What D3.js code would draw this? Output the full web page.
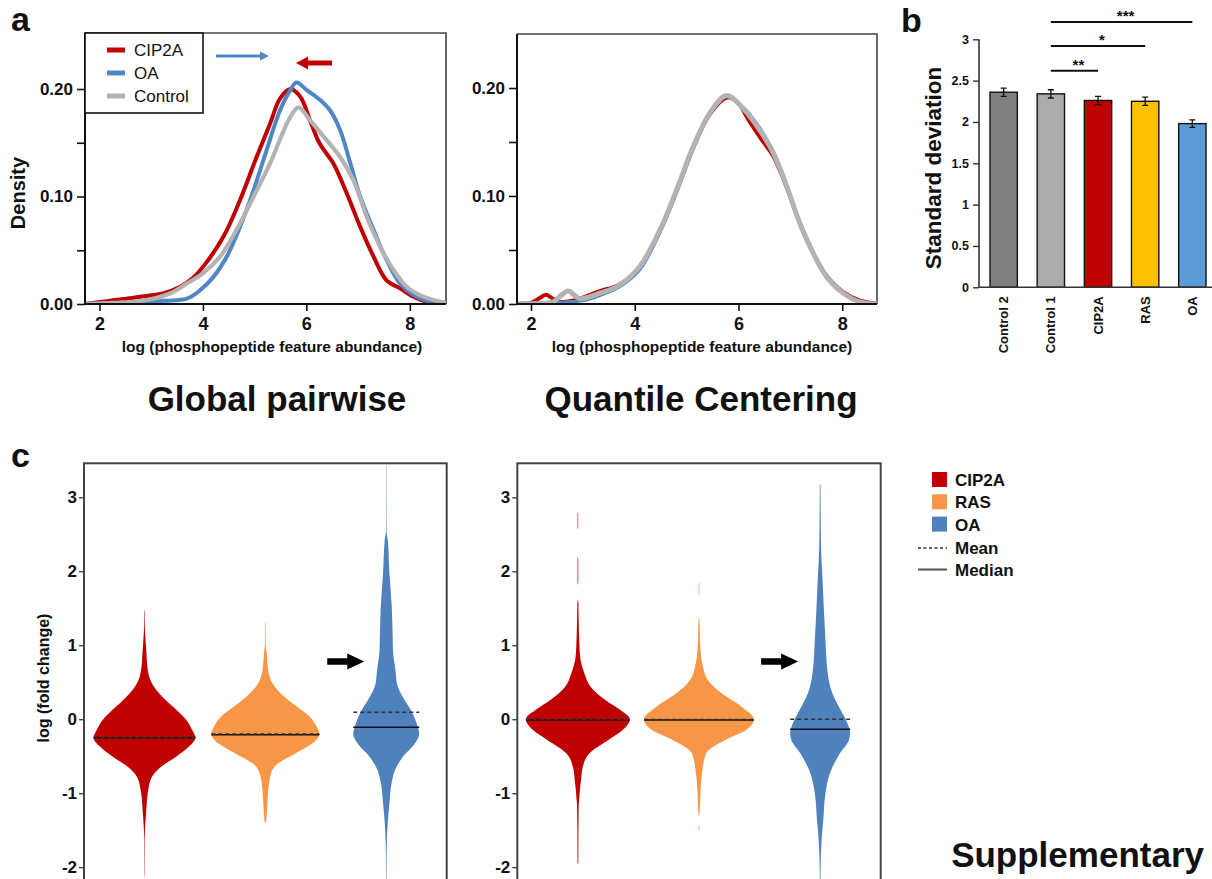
<!DOCTYPE html>
<html>
<head>
<meta charset="utf-8">
<script src="https://cdn.jsdelivr.net/npm/d3@7"></script>
<style>
  html, body { margin: 0; padding: 0; background: #fff; }
  svg { display: block; font-family: "Liberation Sans", Arial, Helvetica, sans-serif; }
</style>
</head>
<body>
<svg id="fig" width="1212" height="879"></svg>
<script>
// ---------- Panel a: density of log(phosphopeptide feature abundance) ----------
const densityNames = ["CIP2A", "OA", "Control"];
const densityColors = ["#c00000", "#4f86c6", "#b3b3b3"];

// Global pairwise normalisation: [log abundance, density]
const globalCIP2A = [[1.72,0.0003],[1.82,0.0007],[2.2,0.003],[2.59,0.0053],[2.9,0.0075],[3.24,0.010],[3.56,0.016],[3.8,0.024],[4.01,0.035],[4.40,0.063],[4.72,0.097],[5.04,0.137],[5.30,0.168],[5.49,0.191],[5.69,0.200],[5.88,0.193],[6.07,0.171],[6.26,0.149],[6.52,0.131],[6.78,0.103],[7.04,0.072],[7.30,0.044],[7.55,0.022],[7.81,0.0146],[8.07,0.0068],[8.33,0.002],[8.70,0.0003]];
const globalOA = [[1.72,0.0002],[2.5,0.0005],[3.24,0.003],[3.69,0.005],[3.95,0.013],[4.20,0.025],[4.46,0.044],[4.72,0.072],[4.98,0.106],[5.23,0.143],[5.49,0.180],[5.69,0.199],[5.81,0.206],[6.01,0.199],[6.26,0.190],[6.46,0.180],[6.65,0.162],[6.85,0.131],[7.04,0.100],[7.30,0.069],[7.55,0.041],[7.81,0.019],[8.07,0.0084],[8.4,0.002],[8.70,0.0005]];
const globalControl = [[1.72,0.0002],[2.3,0.001],[2.92,0.0037],[3.37,0.010],[3.69,0.019],[4.01,0.029],[4.33,0.044],[4.65,0.069],[4.98,0.100],[5.30,0.131],[5.49,0.153],[5.69,0.174],[5.85,0.183],[6.07,0.171],[6.33,0.156],[6.65,0.137],[6.91,0.115],[7.17,0.081],[7.43,0.053],[7.68,0.032],[7.94,0.016],[8.26,0.0068],[8.70,0.001]];

// Quantile centering normalisation
const quantCIP2A = [[1.73,0.0002],[2.0,0.001],[2.15,0.005],[2.29,0.0085],[2.42,0.005],[2.55,0.002],[2.8,0.003],[3.0,0.006],[3.33,0.012],[3.55,0.015],[3.71,0.018],[4.10,0.034],[4.49,0.068],[4.81,0.105],[5.13,0.145],[5.45,0.176],[5.77,0.191],[5.98,0.187],[6.2,0.170],[6.45,0.152],[6.67,0.137],[6.93,0.108],[7.18,0.075],[7.44,0.047],[7.70,0.026],[8.02,0.011],[8.34,0.003],[8.67,0.0003]];
const quantOA = [[1.73,0.0002],[2.3,0.001],[2.7,0.002],[3.0,0.003],[3.33,0.008],[3.71,0.016],[4.10,0.032],[4.49,0.067],[4.81,0.104],[5.13,0.144],[5.45,0.177],[5.75,0.192],[6.09,0.182],[6.41,0.163],[6.67,0.141],[6.93,0.110],[7.18,0.076],[7.44,0.048],[7.70,0.026],[8.02,0.010],[8.34,0.002],[8.67,0.0002]];
const quantControl = [[1.73,0.0002],[2.2,0.0005],[2.43,0.002],[2.58,0.008],[2.72,0.012],[2.84,0.008],[2.94,0.005],[3.33,0.010],[3.71,0.0176],[4.10,0.035],[4.49,0.069],[4.81,0.106],[5.13,0.146],[5.45,0.177],[5.77,0.193],[6.09,0.181],[6.41,0.161],[6.67,0.140],[6.93,0.109],[7.18,0.075],[7.44,0.047],[7.70,0.025],[8.02,0.010],[8.34,0.002],[8.67,0.0002]];

const densityXTicks = [2, 4, 6, 8];
const densityYTicks = [0, 0.05, 0.10, 0.15, 0.20];
const densityYLabels = ["0.00", "", "0.10", "", "0.20"];

// ---------- Panel b: standard deviation per condition ----------
const sdGroups = ["Control 2", "Control 1", "CIP2A", "RAS", "OA"];
const sdValues = [2.36, 2.34, 2.26, 2.25, 1.98];
const sdErrors = [0.05, 0.05, 0.05, 0.05, 0.045];
const sdColors = ["#808080", "#ababab", "#c00000", "#ffc000", "#5b9bd5"];
const sdTicks = [0, 0.5, 1, 1.5, 2, 2.5, 3];
const sdTickLabels = ["0", "0.5", "1", "1.5", "2", "2.5", "3"];
// significance brackets: [from group, to group, height, stars]
const sdSignif = [["Control 1", "CIP2A", 2.62, "**"], ["Control 1", "RAS", 2.92, "*"], ["Control 1", "OA", 3.21, "***"]];

// ---------- Panel c: log fold change distributions ----------
const foldGroups = ["CIP2A", "RAS", "OA"];
const foldColors = ["#c00000", "#f79646", "#4f81bd"];
const foldTicks = [-2, -1, 0, 1, 2, 3];
const foldTickLabels = ["-2", "-1", "0", "1", "2", "3"];

// violin profiles: [log fold change, relative density]
const gpCIP2A = [[1.47,0.004],[1.25,0.007],[1.11,0.016],[0.93,0.033],[0.66,0.062],[0.48,0.14],[0.30,0.33],[0.12,0.59],[-0.01,0.76],[-0.15,0.87],[-0.25,0.927],[-0.37,0.81],[-0.51,0.57],[-0.64,0.31],[-0.78,0.135],[-0.96,0.068],[-1.23,0.033],[-1.41,0.016],[-1.6,0.005],[-2.13,0.003]];
const gpRAS = [[1.32,0.004],[1.0,0.008],[0.89,0.025],[0.66,0.052],[0.48,0.135],[0.30,0.35],[0.16,0.59],[0.03,0.81],[-0.11,0.94],[-0.20,0.982],[-0.33,0.85],[-0.47,0.53],[-0.60,0.225],[-0.74,0.1],[-0.96,0.052],[-1.19,0.033],[-1.37,0.016],[-1.4,0.004]];
const gpOA = [[3.43,0.003],[2.55,0.005],[2.42,0.028],[1.97,0.058],[1.52,0.1],[1.07,0.118],[0.93,0.122],[0.66,0.168],[0.48,0.195],[0.30,0.3],[0.12,0.45],[-0.06,0.555],[-0.20,0.6],[-0.33,0.52],[-0.51,0.3],[-0.69,0.158],[-0.87,0.096],[-1.14,0.058],[-1.41,0.026],[-1.77,0.008],[-2.3,0.004]];

const qcCIP2A = [[2.79,0.005],[2.6,0.005],[2.56,0],[2.2,0],[2.16,0.006],[1.85,0.006],[1.81,0],[1.62,0],[1.57,0.01],[1.35,0.014],[1.07,0.025],[0.85,0.04],[0.62,0.118],[0.44,0.23],[0.26,0.5],[0.13,0.76],[0.0,0.945],[-0.15,0.81],[-0.28,0.555],[-0.46,0.21],[-0.64,0.092],[-0.82,0.057],[-1.09,0.023],[-1.18,0.014],[-1.95,0.007]];
const qcRAS = [[1.84,0.006],[1.7,0.006],[1.66,0],[1.38,0],[1.35,0.008],[1.0,0.022],[0.71,0.072],[0.53,0.16],[0.35,0.41],[0.17,0.775],[0.0,1.0],[-0.15,0.85],[-0.28,0.48],[-0.46,0.13],[-0.73,0.055],[-1.0,0.026],[-1.28,0.009],[-1.31,0],[-1.42,0],[-1.45,0.008],[-1.5,0.008]];
const qcOA = [[3.17,0.007],[2.29,0.017],[1.98,0.038],[1.53,0.065],[1.07,0.097],[0.62,0.138],[0.35,0.222],[0.17,0.34],[-0.01,0.47],[-0.19,0.545],[-0.28,0.525],[-0.46,0.36],[-0.73,0.178],[-1.0,0.097],[-1.36,0.058],[-1.64,0.026],[-2.0,0.009],[-2.3,0.006]];

// group means and medians
const gpMeans = [-0.245, -0.20, 0.095];
const gpMedians = [-0.25, -0.21, -0.11];
const qcMeans = [-0.005, -0.005, 0.0];
const qcMedians = [-0.01, -0.01, -0.135];

// ======================================================================
const svg = d3.select("#fig");
svg.append("rect").attr("width", 1212).attr("height", 879).attr("fill", "#fff");

const BOLD = "bold";

// ----- density panel helper -----
function densityPanel(box, xDomain, yMax, series, strokeW, xTitleX) {
  const g = svg.append("g");
  const x = d3.scaleLinear().domain(xDomain).range([box.x0, box.x1]);
  const y = d3.scaleLinear().domain([0, yMax]).range([box.y1, box.y0]);

  // frame (top/right)
  g.append("path")
    .attr("d", `M${box.x0},${box.y0}H${box.x1}V${box.y1}`)
    .attr("fill", "none").attr("stroke", "#444").attr("stroke-width", 1.6);

  const clipId = "clip" + Math.round(box.x0);
  svg.append("clipPath").attr("id", clipId).append("rect")
    .attr("x", box.x0).attr("y", box.y0 - 10).attr("width", box.x1 - box.x0).attr("height", box.y1 - box.y0 + 10);

  const line = d3.line().x(d => x(d[0])).y(d => y(d[1])).curve(d3.curveCatmullRom.alpha(0.5));
  const pg = g.append("g").attr("clip-path", `url(#${clipId})`);
  series.forEach((s, i) => {
    pg.append("path").datum(s)
      .attr("d", line)
      .attr("fill", "none")
      .attr("stroke", densityColors[i])
      .attr("stroke-width", strokeW[i])
      .attr("stroke-linejoin", "round")
      .attr("stroke-linecap", "round");
  });

  // axes
  const yAxis = d3.axisLeft(y).tickValues(densityYTicks)
    .tickFormat((d, i) => densityYLabels[i]).tickSize(8).tickPadding(4);
  const ya = g.append("g").attr("transform", `translate(${box.x0},0)`).call(yAxis);
  const xAxis = d3.axisBottom(x).tickValues(densityXTicks).tickFormat(d => String(d)).tickSize(7).tickPadding(6);
  const xa = g.append("g").attr("transform", `translate(0,${box.y1})`).call(xAxis);
  [ya, xa].forEach(a => {
    a.select(".domain").attr("stroke", "#111").attr("stroke-width", 2);
    a.selectAll(".tick line").attr("stroke", "#111").attr("stroke-width", 1.6);
    a.selectAll("text").attr("font-size", 17).attr("font-weight", BOLD)
      .attr("fill", "#111").attr("font-family", "Liberation Sans, Arial, sans-serif");
  });
  xa.selectAll("text").attr("font-size", 18);
  ya.select(".domain").attr("d", `M0,${box.y0}V${box.y1}`);
  xa.select(".domain").attr("d", `M${box.x0},0H${box.x1}`);

  g.append("text").attr("x", xTitleX).attr("y", 352)
    .attr("text-anchor", "middle").attr("font-size", 15.5).attr("font-weight", BOLD)
    .attr("fill", "#111").text("log (phosphopeptide feature abundance)");
  return { x, y };
}

const boxA1 = { x0: 85, x1: 446, y0: 33, y1: 304 };
const boxA2 = { x0: 517, x1: 877, y0: 34, y1: 304 };
densityPanel(boxA1, [1.72, 8.70], 0.2521, [globalCIP2A, globalOA, globalControl], [4, 4, 4.2], 272);
densityPanel(boxA2, [1.73, 8.67], 0.25, [quantCIP2A, quantOA, quantControl], [4, 3.2, 5], 702);

svg.append("text").attr("transform", "translate(25,193) rotate(-90)")
  .attr("text-anchor", "middle").attr("font-size", 20).attr("font-weight", BOLD)
  .attr("fill", "#111").text("Density");

// legend box in panel a
const lg = svg.append("g");
lg.append("rect").attr("x", boxA1.x0).attr("y", boxA1.y0).attr("width", 118).attr("height", 80)
  .attr("fill", "#fff").attr("stroke", "#111").attr("stroke-width", 1.6);
densityNames.forEach((n, i) => {
  const yy = 50 + i * 23;
  lg.append("line").attr("x1", 107).attr("x2", 125).attr("y1", yy).attr("y2", yy)
    .attr("stroke", densityColors[i]).attr("stroke-width", 5);
  lg.append("text").attr("x", 134).attr("y", yy + 6).attr("font-size", 17)
    .attr("fill", "#111").text(n);
});

// shift arrows above the peaks
const arrowY1 = 56, arrowY2 = 63;
svg.append("line").attr("x1", 216).attr("x2", 261).attr("y1", arrowY1).attr("y2", arrowY1)
  .attr("stroke", "#4f86c6").attr("stroke-width", 2.8);
svg.append("path").attr("d", `M260,${arrowY1 - 4.5}L269,${arrowY1}L260,${arrowY1 + 4.5}Z`).attr("fill", "#4f86c6");
svg.append("line").attr("x1", 306).attr("x2", 332).attr("y1", arrowY2).attr("y2", arrowY2)
  .attr("stroke", "#c00000").attr("stroke-width", 5);
svg.append("path").attr("d", `M296,${arrowY2}L308,${arrowY2 - 6.5}L308,${arrowY2 + 6.5}Z`).attr("fill", "#c00000");

// panel titles
svg.append("text").attr("x", 277).attr("y", 411).attr("text-anchor", "middle")
  .attr("font-size", 35).attr("font-weight", BOLD).attr("fill", "#111").text("Global pairwise");
svg.append("text").attr("x", 701).attr("y", 411).attr("text-anchor", "middle")
  .attr("font-size", 35).attr("font-weight", BOLD).attr("fill", "#111").text("Quantile Centering");

// panel letters
[["a", 11, 31], ["b", 901, 32], ["c", 11, 467]].forEach(([t, xx, yy]) => {
  svg.append("text").attr("x", xx).attr("y", yy).attr("font-size", 34).attr("font-weight", BOLD)
    .attr("fill", "#111").text(t);
});

// ---------- Panel b ----------
{
  const g = svg.append("g");
  const x = d3.scaleBand().domain(sdGroups).range([979, 1217]).paddingInner(0.42).paddingOuter(0.233);
  const y = d3.scaleLinear().domain([0, 3]).range([287.3, 39.3]);

  g.selectAll("rect.bar").data(sdGroups).join("rect")
    .attr("x", d => x(d)).attr("width", x.bandwidth())
    .attr("y", (d, i) => y(sdValues[i])).attr("height", (d, i) => y(0) - y(sdValues[i]))
    .attr("fill", (d, i) => sdColors[i]).attr("stroke", "#111").attr("stroke-width", 1.4);

  // error bars
  sdGroups.forEach((d, i) => {
    const cx = x(d) + x.bandwidth() / 2;
    const lo = y(sdValues[i] - sdErrors[i]), hi = y(sdValues[i] + sdErrors[i]);
    g.append("path").attr("d", `M${cx},${lo}V${hi}M${cx - 3},${lo}H${cx + 3}M${cx - 3},${hi}H${cx + 3}`)
      .attr("stroke", "#111").attr("stroke-width", 1.3).attr("fill", "none");
  });

  const ya = g.append("g").attr("transform", "translate(979,0)")
    .call(d3.axisLeft(y).tickValues(sdTicks).tickFormat((d, i) => sdTickLabels[i]).tickSize(6).tickPadding(4));
  ya.select(".domain").attr("d", `M0,${y(3)}V${y(0)}`).attr("stroke", "#333").attr("stroke-width", 1.6);
  ya.selectAll(".tick line").attr("stroke", "#333").attr("stroke-width", 1.4);
  ya.selectAll("text").attr("font-size", 12.5).attr("font-weight", BOLD).attr("fill", "#111")
    .attr("font-family", "Liberation Sans, Arial, sans-serif");

  g.append("line").attr("x1", 979).attr("x2", 1212).attr("y1", y(0)).attr("y2", y(0))
    .attr("stroke", "#333").attr("stroke-width", 1.6);

  sdGroups.forEach(d => {
    const cx = x(d) + x.bandwidth() / 2;
    g.append("text").attr("transform", `translate(${cx + 4.5},${y(0) + 9}) rotate(-90)`)
      .attr("text-anchor", "end").attr("font-size", 13).attr("font-weight", BOLD)
      .attr("fill", "#111").text(d);
  });

  sdSignif.forEach(([a, b, h, s]) => {
    const xa = x(a) + x.bandwidth() / 2, xb = x(b) + x.bandwidth() / 2;
    g.append("line").attr("x1", xa).attr("x2", xb).attr("y1", y(h)).attr("y2", y(h))
      .attr("stroke", "#111").attr("stroke-width", 2);
    g.append("text").attr("x", (xa + xb) / 2 + 4).attr("y", y(h) - 1).attr("text-anchor", "middle")
      .attr("font-size", 15).attr("font-weight", BOLD).attr("fill", "#111").text(s);
  });

  svg.append("text").attr("transform", "translate(941,168) rotate(-90)")
    .attr("text-anchor", "middle").attr("font-size", 22.5).attr("font-weight", BOLD)
    .attr("fill", "#111").text("Standard deviation");
}

// ---------- Panel c ----------
const yC = d3.scaleLinear().domain([0, 3]).range([719.2, 497.3]);
const wC = d3.scaleLinear().domain([0, 1]).range([0, 55]);

function violinPanel(box, profiles, means, medians) {
  const g = svg.append("g");
  const x = d3.scaleBand().domain(foldGroups).range([box.x0, box.x1]);
  const clipId = "vclip" + Math.round(box.x0);
  svg.append("clipPath").attr("id", clipId).append("rect")
    .attr("x", box.x0).attr("y", box.y0).attr("width", box.x1 - box.x0).attr("height", box.y1 - box.y0);
  const pg = g.append("g").attr("clip-path", `url(#${clipId})`);

  profiles.forEach((prof, i) => {
    const cx = x(foldGroups[i]) + x.bandwidth() / 2;
    const area = d3.area().curve(d3.curveMonotoneY)
      .y(d => yC(d[0])).x0(d => cx - wC(d[1])).x1(d => cx + wC(d[1]));
    pg.append("path").datum(prof).attr("d", area).attr("fill", foldColors[i]).attr("stroke", "none");

    const half = wC(d3.max(prof, d => d[1]));
    pg.append("line").attr("x1", cx - half).attr("x2", cx + half)
      .attr("y1", yC(medians[i])).attr("y2", yC(medians[i]))
      .attr("stroke", "#111").attr("stroke-width", 1.5);
    pg.append("line").attr("x1", cx - half).attr("x2", cx + half)
      .attr("y1", yC(means[i])).attr("y2", yC(means[i]))
      .attr("stroke", "#333").attr("stroke-width", 1.5).attr("stroke-dasharray", "4,3");
  });

  // arrow pointing at the OA violin
  const cxOA = x("OA") + x.bandwidth() / 2;
  const ay = yC(0.78);
  g.append("path")
    .attr("d", `M${cxOA - 59},${ay - 3.3}H${cxOA - 39}V${ay - 8}L${cxOA - 22},${ay}L${cxOA - 39},${ay + 8}V${ay + 3.3}H${cxOA - 59}Z`)
    .attr("fill", "#000");

  g.append("rect").attr("x", box.x0).attr("y", box.y0).attr("width", box.x1 - box.x0).attr("height", box.y1 - box.y0)
    .attr("fill", "none").attr("stroke", "#444").attr("stroke-width", 2);

  const ya = g.append("g").attr("transform", `translate(${box.x0},0)`)
    .call(d3.axisLeft(yC).tickValues(foldTicks).tickFormat((d, i) => foldTickLabels[i]).tickSize(5).tickPadding(2));
  ya.select(".domain").remove();
  ya.selectAll(".tick line").attr("stroke", "#444").attr("stroke-width", 1.4);
  ya.selectAll("text").attr("font-size", 17).attr("font-weight", BOLD).attr("fill", "#111")
    .attr("font-family", "Liberation Sans, Arial, sans-serif");
}

violinPanel({ x0: 84, x1: 446.7, y0: 463.3, y1: 900 }, [gpCIP2A, gpRAS, gpOA], gpMeans, gpMedians);
violinPanel({ x0: 517.3, x1: 880.7, y0: 463.3, y1: 900 }, [qcCIP2A, qcRAS, qcOA], qcMeans, qcMedians);

svg.append("text").attr("transform", "translate(49,678) rotate(-90)")
  .attr("text-anchor", "middle").attr("font-size", 16).attr("font-weight", BOLD)
  .attr("fill", "#111").text("log (fold change)");

// legend for panel c
{
  const g = svg.append("g");
  foldGroups.forEach((n, i) => {
    const yy = 472 + i * 22.3;
    g.append("rect").attr("x", 932).attr("y", yy).attr("width", 15).attr("height", 15)
      .attr("fill", foldColors[i]);
    g.append("text").attr("x", 955).attr("y", yy + 14).attr("font-size", 17)
      .attr("font-weight", BOLD).attr("fill", "#111").text(n);
  });
  g.append("line").attr("x1", 918).attr("x2", 947).attr("y1", 548).attr("y2", 548)
    .attr("stroke", "#333").attr("stroke-width", 1.5).attr("stroke-dasharray", "3,2.5");
  g.append("text").attr("x", 955).attr("y", 554).attr("font-size", 17)
    .attr("font-weight", BOLD).attr("fill", "#111").text("Mean");
  g.append("line").attr("x1", 918).attr("x2", 947).attr("y1", 569.5).attr("y2", 569.5)
    .attr("stroke", "#555").attr("stroke-width", 2);
  g.append("text").attr("x", 955).attr("y", 576).attr("font-size", 17)
    .attr("font-weight", BOLD).attr("fill", "#111").text("Median");
}

svg.append("text").attr("x", 1204).attr("y", 867).attr("text-anchor", "end")
  .attr("font-size", 35).attr("font-weight", BOLD).attr("fill", "#111").text("Supplementary");
</script>
</body>
</html>
